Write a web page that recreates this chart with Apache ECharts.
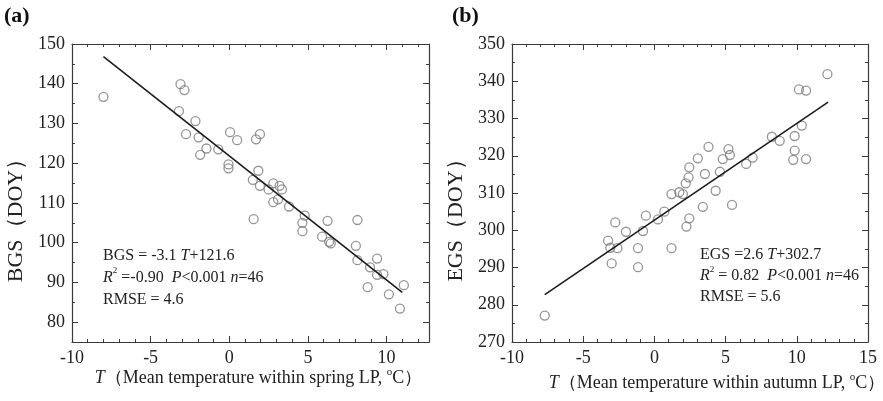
<!DOCTYPE html>
<html><head><meta charset="utf-8">
<script src="https://cdn.jsdelivr.net/npm/echarts@6/dist/echarts.min.js"></script>
<style>html,body{margin:0;padding:0;background:#fff}#c{width:883px;height:401px}</style>
</head><body><div id="c"></div>
<script>
// ---- Panel (a): spring LP temperature vs BGS ----
const tempA = [-8.0,-3.1,-2.85,-3.2,-2.15,-2.75,-1.95,-1.45,-1.85,-0.7,0.05,0.5,-0.05,-0.05,1.7,1.95,1.85,1.5,1.95,1.55,2.5,2.8,3.2,3.35,2.8,3.1,3.8,4.8,4.65,4.65,6.25,5.9,6.45,6.35,8.15,8.05,8.15,9.4,8.95,9.4,9.8,8.8,10.15,10.85,11.1];
const bgsA  = [136.7,139.9,138.4,133.1,130.6,127.3,126.5,123.7,122.1,123.5,127.8,125.8,119.7,118.7,126.0,127.3,118.1,115.8,114.3,105.9,113.4,114.9,114.3,113.4,110.2,110.9,109.1,106.8,105.0,102.9,105.5,101.5,99.8,100.2,105.7,99.2,95.6,96.0,93.8,91.9,92.1,88.8,87.0,83.4,89.3];
const fitTempA = [-8.0, 11.0];
const fitBgsA  = [146.8, 87.5];
// ---- Panel (b): autumn LP temperature vs EGS ----
const tempB = [-7.7,-3.25,-3.1,-2.6,-3.0,-2.75,-2.0,-1.15,-1.15,-0.8,-0.6,0.25,0.7,1.2,1.2,1.75,2.0,2.25,2.45,2.2,2.4,2.45,3.05,3.55,3.4,4.3,4.6,3.8,4.8,5.2,5.3,5.45,6.45,6.9,8.25,8.8,9.85,10.35,9.85,9.75,10.65,10.15,10.65,12.15];
const egsB  = [277.1,297.2,295.3,295.2,291.1,302.1,299.6,295.2,290.1,299.8,303.9,302.9,305.0,295.2,309.7,310.2,309.7,301.0,303.2,312.6,314.2,316.9,319.3,315.1,306.3,310.6,315.7,322.4,319.1,321.8,320.2,306.8,317.8,319.5,325.1,324.0,325.3,328.1,321.4,318.9,319.1,337.8,337.5,341.9];
const fitTempB = [-7.7, 12.2];
const fitEgsB  = [282.7, 334.4];
// ---- axis tick values ----
const xTickLabelsA = [-10, -5, 0, 5, 10];
const yTickLabelsA = [80, 90, 100, 110, 120, 130, 140, 150];
const xTickLabelsB = [-10, -5, 0, 5, 10, 15];
const yTickLabelsB = [270, 280, 290, 300, 310, 320, 330, 340, 350];

const FONT = "'Liberation Serif','Times New Roman',serif";
const INK = '#222';
const AX = '#3a3a3a';

function zip(a, b) { return a.map((v, i) => [v, b[i]]); }

function axis(o) {
  return Object.assign({
    type: 'value',
    axisLine: { show: true, onZero: false, lineStyle: { color: AX, width: 1.2 } },
    axisTick: { show: true, inside: true, length: 3, lineStyle: { color: AX, width: 1 } },
    axisLabel: { show: false },
    splitLine: { show: false },
    minorTick: { show: false },
    minorSplitLine: { show: false }
  }, o);
}
const tickLabel = { show: true, fontFamily: FONT, fontSize: 18, color: INK, margin: 7 };
const majorTick = { show: true, inside: true, length: 6, lineStyle: { color: AX, width: 1 } };
const hiddenLine = { show: false, onZero: false };

const nameRich = {
  i: { fontFamily: FONT, fontStyle: 'italic', fontSize: 18, color: INK, lineHeight: 22 },
  n: { fontFamily: FONT, fontSize: 18, color: INK, lineHeight: 22 },
  s: { fontFamily: FONT, fontSize: 11, color: INK, lineHeight: 12, verticalAlign: 'top' }
};

const xAxes = [
  // 0: panel a bottom (frame + minor ticks)
  axis({ gridIndex: 0, position: 'bottom', min: -10, max: 12.7, interval: 1,
    name: '{i|T}{n|（Mean temperature within spring LP, }{s|o}{n|C）}',
    nameLocation: 'middle', nameGap: 25,
    nameTextStyle: { rich: nameRich, padding: [0, 0, 0, 16] } }),
  // 1: panel a top
  axis({ gridIndex: 0, position: 'top', min: -10, max: 12.7, interval: 1 }),
  // 2: panel a major ticks + labels (overlay)
  axis({ gridIndex: 1, position: 'bottom', offset: 19.87, min: xTickLabelsA[0], max: xTickLabelsA[xTickLabelsA.length - 1], interval: 5,
    axisLine: hiddenLine, axisTick: majorTick, axisLabel: tickLabel }),
  // 3: panel a top major ticks
  axis({ gridIndex: 1, position: 'top', min: -10, max: 10, interval: 5, axisLine: hiddenLine, axisTick: majorTick }),
  // 4: panel b bottom
  axis({ gridIndex: 2, position: 'bottom', min: xTickLabelsB[0], max: xTickLabelsB[xTickLabelsB.length - 1], interval: 5,
    axisTick: majorTick, axisLabel: tickLabel,
    minorTick: { show: true, splitNumber: 5, length: 3, lineStyle: { color: AX, width: 1 } },
    name: '{i|T}{n|（Mean temperature within autumn LP, }{s|o}{n|C）}',
    nameLocation: 'middle', nameGap: 25,
    nameTextStyle: { rich: nameRich, padding: [0, 0, 0, 54] } }),
  // 5: panel b top
  axis({ gridIndex: 2, position: 'top', min: -10, max: 15, interval: 5, axisTick: majorTick,
    minorTick: { show: true, splitNumber: 5, length: 3, lineStyle: { color: AX, width: 1 } } })
];

const yAxes = [
  axis({ gridIndex: 0, position: 'left', min: 75, max: 150, interval: 5,
    name: 'BGS（DOY）', nameLocation: 'middle', nameGap: 45,
    nameTextStyle: { fontFamily: FONT, fontSize: 22, color: INK, padding: [0, 44, 0, 0] } }),
  axis({ gridIndex: 0, position: 'right', min: 75, max: 150, interval: 5 }),
  axis({ gridIndex: 1, position: 'left', min: yTickLabelsA[0], max: yTickLabelsA[yTickLabelsA.length - 1], interval: 10,
    axisLine: hiddenLine, axisTick: majorTick, axisLabel: tickLabel }),
  axis({ gridIndex: 1, position: 'right', offset: 42.5, min: 80, max: 150, interval: 10, axisLine: hiddenLine, axisTick: majorTick }),
  axis({ gridIndex: 2, position: 'left', min: yTickLabelsB[0], max: yTickLabelsB[yTickLabelsB.length - 1], interval: 10,
    axisTick: majorTick, axisLabel: tickLabel,
    minorTick: { show: true, splitNumber: 2, length: 3, lineStyle: { color: AX, width: 1 } },
    name: 'EGS（DOY）', nameLocation: 'middle', nameGap: 45,
    nameTextStyle: { fontFamily: FONT, fontSize: 22, color: INK, padding: [0, 44, 0, 0] } }),
  axis({ gridIndex: 2, position: 'right', min: 270, max: 350, interval: 10, axisTick: majorTick,
    minorTick: { show: true, splitNumber: 2, length: 3, lineStyle: { color: AX, width: 1 } } })
];

const markerStyle = { color: 'rgba(255,255,255,0)', borderColor: '#7a7a7a', borderWidth: 1.3 };
const fitStyle = { color: '#1c1c1c', width: 1.6 };

const annRich = {
  n: { fontFamily: FONT, fontSize: 16, fill: INK, lineHeight: 22 },
  i: { fontFamily: FONT, fontSize: 16, fontStyle: 'italic', fill: INK, lineHeight: 22 },
  s: { fontFamily: FONT, fontSize: 9, fill: INK, lineHeight: 12, verticalAlign: 'top' }
};
const annRichB = JSON.parse(JSON.stringify(annRich));
Object.keys(annRichB).forEach(k => { if (k !== 's') annRichB[k].lineHeight = 21; });

const option = {
  backgroundColor: '#fff',
  animation: false,
  grid: [
    { left: 72, top: 44, width: 357, height: 298, outerBoundsMode: 'none', containLabel: false },
    { left: 72, top: 44, width: 314.5, height: 278.13, outerBoundsMode: 'none', containLabel: false },
    { left: 512, top: 44, width: 356, height: 298, outerBoundsMode: 'none', containLabel: false }
  ],
  xAxis: xAxes,
  yAxis: yAxes,
  series: [
    { type: 'scatter', xAxisIndex: 0, yAxisIndex: 0, data: zip(tempA, bgsA), symbol: 'circle', symbolSize: 9, itemStyle: markerStyle, silent: true },
    { type: 'line', xAxisIndex: 0, yAxisIndex: 0, data: zip(fitTempA, fitBgsA), symbol: 'none', lineStyle: fitStyle, silent: true },
    { type: 'scatter', xAxisIndex: 4, yAxisIndex: 4, data: zip(tempB, egsB), symbol: 'circle', symbolSize: 9, itemStyle: markerStyle, silent: true },
    { type: 'line', xAxisIndex: 4, yAxisIndex: 4, data: zip(fitTempB, fitEgsB), symbol: 'none', lineStyle: fitStyle, silent: true }
  ],
  graphic: [
    { type: 'text', left: 4, top: 5, style: { text: '(a)', font: 'bold 22px ' + FONT, fill: '#111' } },
    { type: 'text', left: 452, top: 5, style: { text: '(b)', font: 'bold 22px ' + FONT, fill: '#111' } },
    { type: 'text', left: 103, top: 247.5, style: {
      text: '{n|BGS = -3.1 }{i|T}{n|+121.6}\n{i|R}{s|2}{n| =-0.90  }{i|P}{n|<0.001 }{i|n}{n|=46}\n{n|RMSE = 4.6}',
      rich: annRich, font: '16px ' + FONT, fill: INK } },
    { type: 'text', left: 700, top: 247, style: {
      text: '{n|EGS =2.6 }{i|T}{n|+302.7}\n{i|R}{s|2}{n| = 0.82  }{i|P}{n|<0.001 }{i|n}{n|=46}\n{n|RMSE = 5.6}',
      rich: annRichB, font: '16px ' + FONT, fill: INK } }
  ]
};

const chart = echarts.init(document.getElementById('c'), null, { renderer: 'canvas' });
chart.setOption(option);
</script>
</body></html>
